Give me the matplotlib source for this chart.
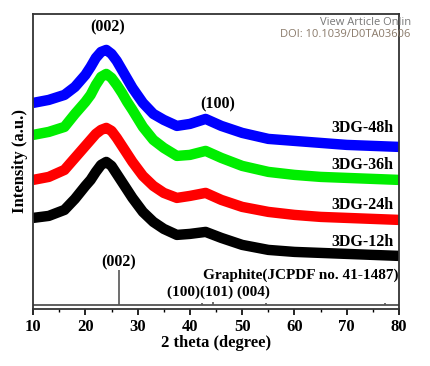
import matplotlib.pyplot as plt

two_theta = [10, 13, 16, 18, 20, 21, 22, 23, 24, 25, 26, 27, 28, 29, 31, 33,
             35, 37.5, 40, 43, 46, 50, 55, 60, 65, 70, 75, 80]

# intensity (arbitrary units, stacked offsets included)
dg_48h = [206, 209, 214, 222, 234, 242, 251, 257, 259, 255, 248, 239, 230, 221,
          206, 195, 189, 183, 185, 190, 183, 176, 170, 168, 166, 164, 163, 162]
dg_36h = [174, 177, 182, 195, 207, 214, 224, 232, 235, 231, 224, 216, 207, 199,
          182, 169, 161, 153, 154, 158, 151, 143, 137, 134, 132, 131, 130, 129]
dg_24h = [129, 132, 139, 151, 163, 169, 175, 179, 181, 178, 171, 163, 155, 147,
          133, 123, 116, 111, 113, 116, 109, 102, 97, 94, 92, 91, 90, 89]
dg_12h = [91, 93, 99, 110, 123, 129, 137, 144, 147, 143, 135, 127, 119, 111,
          97, 87, 80, 74, 75, 77, 71, 64, 59, 57, 56, 55, 54, 53]

series = [("3DG-12h", dg_12h, "black"), ("3DG-24h", dg_24h, "red"),
          ("3DG-36h", dg_36h, "#00ee00"), ("3DG-48h", dg_48h, "blue")]
label_y = {"3DG-48h": 181, "3DG-36h": 144, "3DG-24h": 104, "3DG-12h": 67}

# graphite reference pattern (JCPDF 41-1487)
ref_pos = [26.5, 42.4, 44.5, 54.6, 77.4]
ref_height = [35, 2, 3, 1.5, 1.5]
ref_base = 4

serif = ["Liberation Serif", "DejaVu Serif"]
plt.rcParams["font.family"] = serif
plt.rcParams["font.weight"] = "bold"

fig = plt.figure(figsize=(4.3, 3.66), dpi=100)
ax = fig.add_axes([0.077, 0.156, 0.851, 0.806])

for name, vals, col in series:
    ax.plot(two_theta, vals, color=col, lw=7.5, solid_joinstyle="round",
            solid_capstyle="butt")
    ax.text(79, label_y[name], name, ha="right", va="center", fontsize=11.5,
            fontweight="bold")

ax.axhline(ref_base, color="#444444", lw=1.2)
ax.vlines(ref_pos, ref_base, [ref_base + h for h in ref_height],
          color="#555555", lw=1.2)

ax.text(24.2, 282, "(002)", ha="center", va="center", fontsize=11.5, fontweight="bold")
ax.text(45.3, 205, "(100)", ha="center", va="center", fontsize=11.5, fontweight="bold")
ax.text(26.4, 47, "(002)", ha="center", va="center", fontsize=11.5, fontweight="bold")
ax.text(79.9, 34, "Graphite(JCPDF no. 41-1487)", ha="right", va="center",
        fontsize=11, fontweight="bold")
ax.text(35.6, 17, "(100)(101) (004)", ha="left", va="center", fontsize=11,
        fontweight="bold")

ax.set_xlim(10, 80)
ax.set_ylim(0, 295)
ax.set_yticks([])
ax.set_xticks(range(10, 81, 10))
ax.set_xticks(range(15, 80, 10), minor=True)
ax.tick_params(axis="x", which="major", direction="out", length=4, width=1.2,
               labelsize=12, pad=3)
ax.tick_params(axis="x", which="minor", direction="out", length=2.5, width=1)
for lab in ax.get_xticklabels():
    lab.set_fontweight("bold")
for sp in ax.spines.values():
    sp.set_linewidth(1.3)
    sp.set_color("#333333")

ax.set_xlabel("2 theta (degree)", fontsize=12, fontweight="bold", labelpad=0)
ax.set_ylabel("Intensity (a.u.)", fontsize=12, fontweight="bold", labelpad=4)

sans = ["Open Sans", "DejaVu Sans"]
fig.text(0.955, 0.938, "View Article Onlin", ha="right", va="center", fontsize=8,
         color="#777777", family=sans, fontweight="normal")
fig.text(0.955, 0.905, "DOI: 10.1039/D0TA03606", ha="right", va="center",
         fontsize=8, color="#8a7a6a", family=sans, fontweight="normal")

fig.savefig("out.png", dpi=100)
